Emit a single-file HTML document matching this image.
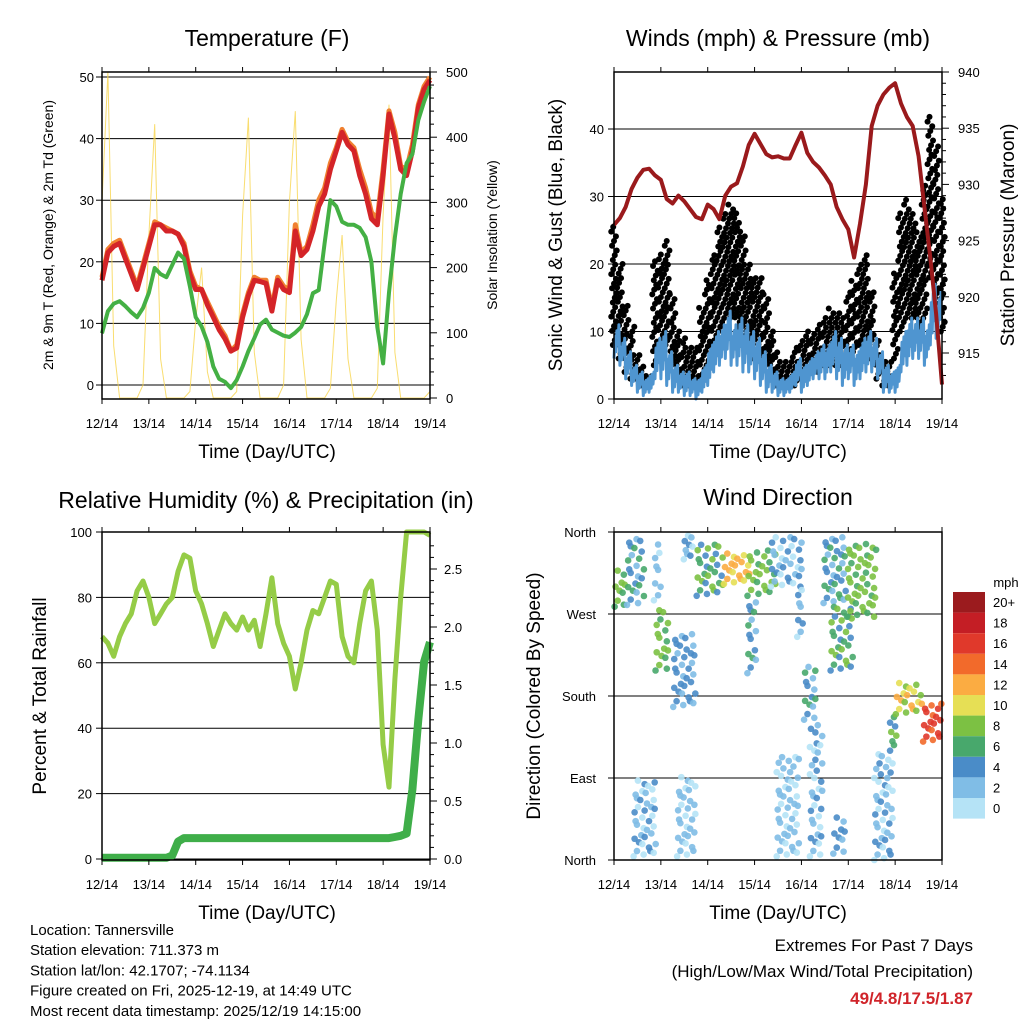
<!DOCTYPE html>
<html><head><meta charset="utf-8"><style>
body{margin:0;background:#fff;}
svg{display:block;font-family:"Liberation Sans",sans-serif;}
</style></head><body>
<svg id="s" width="1024" height="1024" viewBox="0 0 1024 1024"></svg>
<script>
// ---- data (3-hourly, t = 0..168 h) ----
const dayLabels=["12/14","13/14","14/14","15/14","16/14","17/14","18/14","19/14"];
const temp2m=[17,21.5,22.5,23,20.5,18,15.5,19,22.5,26,26,25,25,24.5,22.5,18,15.5,15.5,13,11,9,7.5,5.5,6,11,14.5,17,16.8,16.5,12,17,15.5,15,25,21,22,25,29,31,35,38,41,39,38,34,31,27,26,34,44,40,35,34,38,45,48,49.5];
const temp9m=[17.5,22,23,23.5,21,18.5,16,19.5,23,26.5,26,25.5,25,24.5,23,18.5,16,15.5,13.5,11.5,9.5,8,5.5,6.5,11.5,15,17.5,17,17,12.5,17.5,16,15.5,26,21.5,22.5,26,30,32,36,38.5,41.5,39.5,38.5,35,32,28,27,35,44.5,41,35.5,35,39,45.5,48.5,50];
const dewpt=[8.4,12,13.2,13.6,12.8,11.8,11,12.5,15,19,18,17.5,19.5,21.5,20.5,16,11,9.5,7,3,1,0.5,-0.5,0.8,3,5.5,7.6,9.8,10.6,9,8.5,8,7.8,8.5,9.4,11.5,14.9,15.4,23,30,29,26.5,26,26,25.5,24,20,9.4,3.5,15,24,31,36,37.5,43,46,48.5];
const solar=[300,500,80,0,0,0,0,20,250,420,60,0,0,0,0,10,120,200,40,0,0,0,0,10,280,430,70,0,0,0,0,20,300,440,90,0,0,0,0,15,150,250,60,0,0,0,0,15,280,450,70,0,0,0,0,0,10];
const pressure=[926.4,927,928,929.6,930.6,931.3,931.4,930.8,930.4,928.7,928.3,929,928.5,927.8,927.1,926.9,928.2,927.8,926.9,929,929.8,930.1,931.6,933.5,934.5,933.6,932.7,932.4,932.5,932.3,932.3,933.5,934.6,932.8,932,931.5,930.8,930,928,926.9,926,923.5,926.5,930,935.2,937,938,938.6,939,937.2,936,935.2,932.5,928,923.5,918.5,912.2];
const windLow=[6,5,3,2,1,0.5,1,3,3,2,1,1,0.5,0.5,0,1,2,4,5,6,5,5,4,4,3,2,1,1,0.5,0.5,1,2,1,2,3,3,3,4,3,2,3,2,3,4,4,3,1,1,1,4,5,6,6,5,8,9,4];
const windHigh=[11,9,7,5,4,3,4,9,10,7,5,4,4,3,3,5,8,10,11,13,11,12,11,10,9,7,5,4,3,3,4,6,5,6,7,8,8,10,9,8,8,7,9,10,9,7,5,4,5,10,12,12,12,11,17,16,12];
const gustLow=[8,6,4,3,3,2,2,5,6,8,5,3,2,2,2,3,5,8,10,12,12,10,8,8,6,6,5,3,2,2,2,2,3,3,4,4,5,5,5,5,6,7,8,8,6,3,2,2,6,10,12,12,10,12,18,15,10];
const gustHigh=[26,20,14,11,7,5,4,21,22,24,16,10,9,8,8,14,18,22,26,28,29,28,25,20,18,18,16,10,7,6,6,8,9,10,10,11,12,14,13,12,16,18,20,22,16,9,6,6,19,28,30,28,25,32,42,38,30];
const rh=[68,66,62,68,72,75,82,85,80,72,75,78,80,88,93,92,82,78,72,65,70,75,72,70,74,70,73,65,75,86,72,66,62,52,60,70,76,75,80,85,84,68,62,60,72,82,85,70,35,22,55,80,100,100,100,100,99];
const precip=[0.01,0.01,0.01,0.01,0.01,0.01,0.01,0.01,0.01,0.01,0.01,0.01,0.03,0.15,0.18,0.18,0.18,0.18,0.18,0.18,0.18,0.18,0.18,0.18,0.18,0.18,0.18,0.18,0.18,0.18,0.18,0.18,0.18,0.18,0.18,0.18,0.18,0.18,0.18,0.18,0.18,0.18,0.18,0.18,0.18,0.18,0.18,0.18,0.18,0.18,0.19,0.2,0.22,0.6,1.2,1.7,1.87];
// wind direction clusters: start hour, end hour, dir low, dir high, speed
const dirT0=[0,6.3,9.7,20.9,20,30,32,35.4,42,56,68,68,80,93.5,83,97,100,107,110.6,112,119,133,141,144,158];
const dirT1=[6.3,15.7,21.7,28.6,24.3,42,42,40.5,56,69.6,83,73,97,97,95,104,107,119,122.6,119,134.6,143,145,158,168];
const dirD0=[278,280,4,208,285,168,4,330,290,303,290,205,300,245,4,154,4,282,208,7,267,0,120,160,130];
const dirD1=[322,358,91,278,350,252,95,360,350,340,344,289,358,300,117,216,154,358,282,51,351,120,161,198,175];
const dirSpd=[7,4,2,7,1,3,1,2,6,11,7,4,2,2,1.5,4,2,4,6,3,7,2,6,10,15];
const speedLabels=["20+","18","16","14","12","10","8","6","4","2","0"];
const speedColors=["#9b1b1e","#c41e25","#e0392b","#f26a2b","#fbac42","#e6df55","#7cc143","#48a86c","#4a8cc8","#80bde6","#b5e3f6"];

const NS="http://www.w3.org/2000/svg";
const svg=document.getElementById('s');
function el(tag,attrs,parent,txt){const e=document.createElementNS(NS,tag);for(const k in attrs)e.setAttribute(k,attrs[k]);if(txt!==undefined)e.textContent=txt;(parent||svg).appendChild(e);return e;}
function grp(name){const g=el('g',{});return g;}
function scale(d0,d1,r0,r1){return v=>r0+(v-d0)/(d1-d0)*(r1-r0);}
function txt(parent,x,y,s,size,anchor,name,extra){const t=el('text',Object.assign({x:x,y:y,'font-size':size,'text-anchor':anchor||'middle',fill:'#000'},extra||{}),parent,s);return t;}
function rtxt(parent,x,y,s,size,name){const t=el('text',{x:0,y:0,'font-size':size,'text-anchor':'middle',transform:`translate(${x},${y}) rotate(-90)`},parent,s);return t;}
function pathFrom(xs,ys){return xs.map((x,i)=>(i?'L':'M')+x.toFixed(1)+','+ys[i].toFixed(1)).join('');}
const N=temp2m.length;
const hours=temp2m.map((_,i)=>i*3);

function xAxis(g,x,y0,y1){
  dayLabels.forEach((d,i)=>{const xx=x(i*24);
    el('line',{x1:xx,y1:y1,x2:xx,y2:y1+5,stroke:'#000'},g);
    el('line',{x1:xx,y1:y0,x2:xx,y2:y0-5,stroke:'#000'},g);
    txt(g,xx,y1+29,d,13,'middle','x-tick-label');});
}

// ---------- Panel 1: Temperature ----------
(function(){
const g=grp('temperature-panel');
const L=102,R=430,T=72,B=399;
const x=scale(0,168,L,R), y=scale(0,50,385,77), ys=scale(0,500,398,72);
[0,10,20,30,40,50].forEach(v=>{el('line',{x1:L,y1:y(v),x2:R,y2:y(v),stroke:'#000','stroke-width':1},g);
  el('line',{x1:L-6,y1:y(v),x2:L,y2:y(v),stroke:'#000'},g);
  txt(g,L-8,y(v)+5,String(v),13,'end','y-tick-label');});
for(let v=0;v<=500;v+=20){el('line',{x1:R,y1:ys(v),x2:R+(v%100?4:7),y2:ys(v),stroke:'#000'},g);}
[0,100,200,300,400,500].forEach(v=>txt(g,R+16,ys(v)+5,String(v),13,'start','right-tick-label'));
const s=el('path',{d:pathFrom(hours.map(x),solar.map(ys)),fill:'none',stroke:'#f7d44c','stroke-width':1,opacity:0.8},g);

const o=el('path',{d:pathFrom(hours.map(x),temp9m.map(y)),fill:'none',stroke:'#f08030','stroke-width':5,'stroke-linejoin':'round'},g);

const r=el('path',{d:pathFrom(hours.map(x),temp2m.map(y)),fill:'none',stroke:'#d42428','stroke-width':5,'stroke-linejoin':'round'},g);

const d=el('path',{d:pathFrom(hours.map(x),dewpt.map(y)),fill:'none',stroke:'#44b044','stroke-width':4,'stroke-linejoin':'round'},g);

el('rect',{x:L,y:T,width:R-L,height:B-T,fill:'none',stroke:'#000','stroke-width':1.5},g);
xAxis(g,x,T,B);
txt(g,267,46,'Temperature (F)',23,'middle','chart-title');
txt(g,267,458,'Time (Day/UTC)',19,'middle','x-axis-title');
rtxt(g,53,235,'2m & 9m T (Red, Orange) & 2m Td (Green)',14,'y-axis-title');
rtxt(g,497,235,'Solar Insolation (Yellow)',14,'y2-axis-title');
})();

// ---------- Panel 2: Winds ----------
(function(){
const g=grp('winds-panel');
const L=614,R=942,T=72,B=399;
const x=scale(0,168,L,R), y=scale(0,10,399,331.5), yp=scale(915,940,353,72);
[0,10,20,30,40].forEach(v=>{el('line',{x1:L,y1:y(v),x2:R,y2:y(v),stroke:'#000'},g);
  el('line',{x1:L-6,y1:y(v),x2:L,y2:y(v),stroke:'#000'},g);
  txt(g,L-10,y(v)+5,String(v),13,'end','y-tick-label');});
for(let v=913;v<=940;v++){el('line',{x1:R,y1:yp(v),x2:R+(v%5?4:7),y2:yp(v),stroke:'#000'},g);}
[915,920,925,930,935,940].forEach(v=>txt(g,R+16,yp(v)+5,String(v),13,'start','right-tick-label'));
for(let i=0;i<N;i++){const lo=gustLow[i],hi=gustHigh[i];
  for(let k=0;k<3;k++){let j=0;for(let v=lo+k*0.7;v<=hi;v+=2.1){j++;
    const xx=x(hours[i]+(k-1)*1.0+((j*5)%3-1)*0.4);
    const c=el('circle',{cx:xx,cy:y(v),r:3,fill:'#000'},g);
    }}}
const wz=[],wy=[];
for(let i=0;i<N-1;i++){for(let k=0;k<6;k++){const h=hours[i]+k*0.5;wz.push(x(h));wy.push(y(k%2?windHigh[i]*(0.8+0.04*k):windLow[i]+(windHigh[i]-windLow[i])*0.2*k/2));}}
const w=el('path',{d:pathFrom(wz,wy),fill:'none',stroke:'#4f95d0','stroke-width':3,'stroke-linejoin':'round'},g);

const p=el('path',{d:pathFrom(hours.map(x),pressure.map(yp)),fill:'none',stroke:'#9a1a1c','stroke-width':4,'stroke-linejoin':'round'},g);

el('rect',{x:L,y:T,width:R-L,height:B-T,fill:'none',stroke:'#000','stroke-width':1.5},g);
xAxis(g,x,T,B);
txt(g,778,46,'Winds (mph) & Pressure (mb)',23,'middle','chart-title');
txt(g,778,458,'Time (Day/UTC)',19,'middle','x-axis-title');
rtxt(g,562,235,'Sonic Wind & Gust (Blue, Black)',19,'y-axis-title');
rtxt(g,1014,235,'Station Pressure (Maroon)',19,'y2-axis-title');
})();

// ---------- Panel 3: RH & Precip ----------
(function(){
const g=grp('humidity-precip-panel');
const L=102,R=430,T=532,B=860;
const x=scale(0,168,L,R), y=scale(0,100,859,532), yp=scale(0,2.5,859,569);
[0,20,40,60,80,100].forEach(v=>{el('line',{x1:L,y1:y(v),x2:R,y2:y(v),stroke:'#000'},g);
  el('line',{x1:L-6,y1:y(v),x2:L,y2:y(v),stroke:'#000'},g);
  txt(g,L-10,y(v)+5,String(v),13,'end','y-tick-label');});
for(let v=0;v<=2.8;v+=0.1){el('line',{x1:R,y1:yp(v),x2:R+(Math.round(v*10)%5?4:7),y2:yp(v),stroke:'#000'},g);}
[0,0.5,1,1.5,2,2.5].forEach(v=>txt(g,R+14,yp(v)+5,v.toFixed(1),13,'start','right-tick-label'));
const r=el('path',{d:pathFrom(hours.map(x),rh.map(y)),fill:'none',stroke:'#95cc47','stroke-width':5,'stroke-linejoin':'round'},g);

const p=el('path',{d:pathFrom(hours.map(x),precip.map(yp)),fill:'none',stroke:'#3fae49','stroke-width':8,'stroke-linejoin':'round'},g);

el('rect',{x:L,y:T,width:R-L,height:B-T,fill:'none',stroke:'#000','stroke-width':1.5},g);
xAxis(g,x,T,B);
txt(g,266,508,'Relative Humidity (%) & Precipitation (in)',23,'middle','chart-title');
txt(g,267,919,'Time (Day/UTC)',19,'middle','x-axis-title');
rtxt(g,46,696,'Percent & Total Rainfall',19,'y-axis-title');
})();

// ---------- Panel 4: Wind Direction ----------
(function(){
const g=grp('wind-direction-panel');
const L=614,R=942,T=532,B=860;
const x=scale(0,168,L,R), y=scale(0,360,860,532);
[["North",0],["East",90],["South",180],["West",270],["North",360]].forEach(([n,v])=>{
  el('line',{x1:L,y1:y(v),x2:R,y2:y(v),stroke:'#000'},g);
  el('line',{x1:L-6,y1:y(v),x2:L,y2:y(v),stroke:'#000'},g);
  txt(g,L-18,y(v)+5,n,13,'end','y-tick-label');});
function col(s){const idx=Math.min(10,Math.max(0,Math.round(s/2)));return speedColors[10-idx];}
for(let c=0;c<dirT0.length;c++){
  const t0=dirT0[c],t1=dirT1[c],d0=dirD0[c],d1=dirD1[c];
  const nx=Math.max(2,Math.round((t1-t0)/1.8)), ny=Math.max(3,Math.round((d1-d0)/10));
  for(let a=0;a<nx;a++)for(let b=0;b<ny;b++){
    if(((a*7+b*3)%5)>=3 && nx*ny>10) continue;
    const tt=t0+(t1-t0)*(a+0.2+((b*5)%3)*0.3)/nx, dd=d0+(d1-d0)*((b+((a*3)%4)*0.2)/ny);
    const cc=el('circle',{cx:x(tt),cy:y(Math.min(360,dd)),r:3.3,fill:col(dirSpd[c]+(((a+b)%3)-1)*1.2),opacity:0.9},g);
    }
}
el('rect',{x:L,y:T,width:R-L,height:B-T,fill:'none',stroke:'#000','stroke-width':1.5},g);
xAxis(g,x,T,B);
txt(g,778,505,'Wind Direction',23,'middle','chart-title');
txt(g,778,919,'Time (Day/UTC)',19,'middle','x-axis-title');
rtxt(g,540,696,'Direction (Colored By Speed)',19,'y-axis-title');
const cb=grp('speed-colorbar');
txt(cb,1006,587,'mph',13,'middle','colorbar-title');
speedLabels.forEach((s,i)=>{const yy=592+i*20.6;
  const r=el('rect',{x:953,y:yy,width:32,height:20.6,fill:speedColors[i]},cb);
  
  txt(cb,993,yy+15,s,13,'start','colorbar-label');});
})();

// ---------- footer ----------
const f=grp('station-info');
["Location: Tannersville","Station elevation: 711.373 m","Station lat/lon: 42.1707; -74.1134","Figure created on Fri, 2025-12-19, at 14:49 UTC","Most recent data timestamp: 2025/12/19 14:15:00"].forEach((s,i)=>txt(f,30,935+i*20.2,s,15,'start','info-line'));
const ex=grp('extremes-summary');
txt(ex,973,951,'Extremes For Past 7 Days',17,'end','extremes-title');
txt(ex,973,977,'(High/Low/Max Wind/Total Precipitation)',17,'end','extremes-subtitle');
txt(ex,973,1004,'49/4.8/17.5/1.87',17,'end','extremes-values',{fill:'#d0242a','font-weight':'bold'});
</script>
</body></html>
